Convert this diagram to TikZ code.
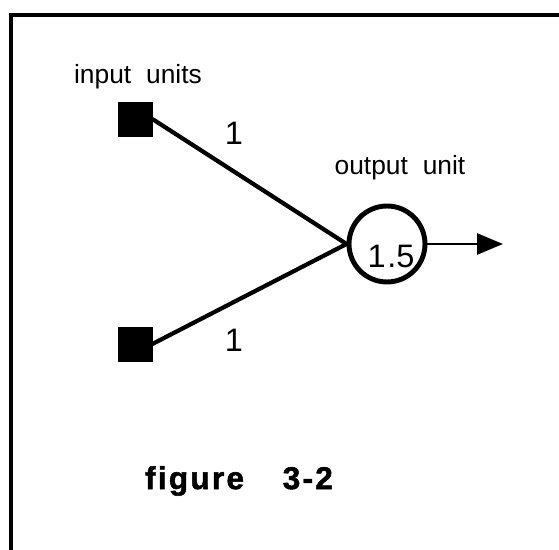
\documentclass[tikz,border=0pt]{standalone}
\usepackage{fontspec}
\usepackage{tikz}
\usetikzlibrary{arrows.meta}
\setmainfont{Liberation Sans}
\newfontfamily\figfont[LetterSpace=7,FakeBold=1.5]{Liberation Sans Bold}

\begin{document}
\begin{tikzpicture}[x=0.02cm, y=-0.02cm,
    unit/.style={draw, fill=black, minimum size=0.68cm, inner sep=0pt},
    cell/.style={draw, circle, line width=2.8pt, minimum size=1.52cm, inner sep=0pt},
    link/.style={line width=2.4pt},
    lbl/.style={font=\fontsize{15}{18}\selectfont, inner sep=0pt},
    wt/.style={font=\fontsize{18.5}{21}\selectfont, inner sep=0pt}]
    \useasboundingbox (0,0) rectangle (559,550);
    % frame runs off the page on the right and at the bottom
    \draw[line width=2.6pt] (11,560) -- (11,15) -- (570,15);

    \node[unit] (in1) at (135,119) {};
    \node[unit] (in2) at (135,344) {};
    \node[cell] (out) at (387,244) {};
    \node[wt] at (391,256) {1\kern1pt.5};

    \node[lbl] at (138,77) {input\hspace{8.5pt}units};
    \node[lbl] at (400,168) {output\hspace{8.5pt}unit};

    \draw[link] (in1.east) -- (out.west) node[wt, pos=0.42, above=14pt] {1};
    \draw[link] (in2.east) -- (out.west) node[wt, pos=0.42, below=14pt] {1};

    \coordinate (tip) at (503,244);
    \draw[line width=1.6pt, -{Triangle[length=0.52cm, width=0.42cm]}] (out.east) -- (tip);

    \node[inner sep=0pt] (fig) at (239,481) {\fontsize{18}{22}\selectfont\figfont figure\hspace{22pt}3-2};
\end{tikzpicture}
\end{document}
